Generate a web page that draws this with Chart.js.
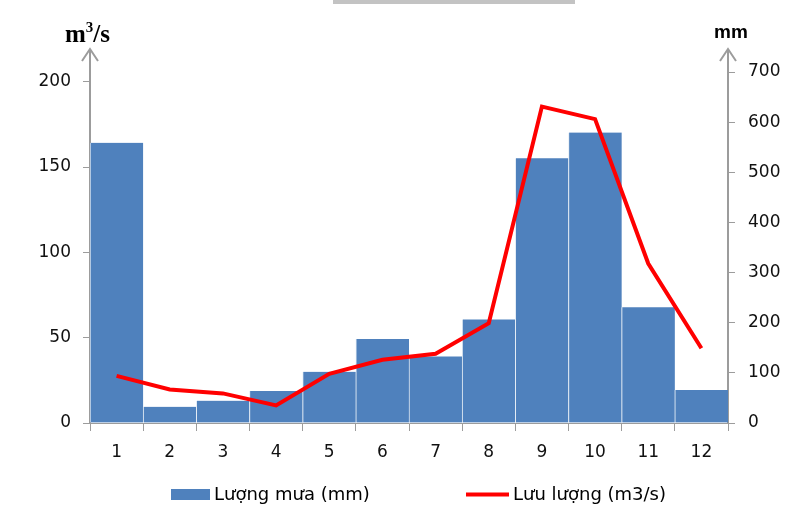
<!DOCTYPE html>
<html>
<head>
<meta charset="utf-8">
<script src="https://cdn.jsdelivr.net/npm/chart.js@4.4.0/dist/chart.umd.min.js"></script>
<style>
  body { margin: 0; background: #fff; }
  #wrap { position: relative; width: 809px; height: 514px; }
</style>
</head>
<body>
<div id="wrap"><canvas id="chart" width="809" height="514"></canvas></div>
<script>
// chart values
var months = ['1', '2', '3', '4', '5', '6', '7', '8', '9', '10', '11', '12'];
var rainLabel = 'Lượng mưa (mm)';
var flowLabel = 'Lưu lượng (m3/s)';
var rain = [164.2, 9.5, 13.1, 18.7, 30.0, 49.2, 39.0, 60.7, 155.2, 170.2, 67.8, 19.3];
var flow = [94, 67, 59, 35, 98, 126, 138, 199, 631, 606, 318, 149];
var leftTicks = [0, 50, 100, 150, 200];
var rightTicks = [0, 100, 200, 300, 400, 500, 600, 700];
var leftTitle = ['m', '3', '/s'];
var rightTitle = 'mm';

var axisGrey = '#9c9c9c';
var barBlue = '#4f81bd';
var lineRed = '#ff0000';
var tickFont = {family: 'DejaVu Sans', size: 17};

// arrows on the two value axes, axis titles, legend
var extras = {
  id: 'extras',
  afterDraw: function(chart) {
    var c = chart.ctx, area = chart.chartArea;
    var xs = [chart.scales.y.right, chart.scales.y1.left];
    c.save();
    c.fillStyle = '#c3c3c3';
    c.fillRect(333, 0, 242, 4);

    c.strokeStyle = axisGrey;
    c.lineWidth = 2;
    xs.forEach(function(x) {
      c.beginPath();
      c.moveTo(x, area.top);
      c.lineTo(x, 49);
      c.stroke();
      c.beginPath();
      c.moveTo(x - 8, 61);
      c.lineTo(x, 49);
      c.lineTo(x + 8, 61);
      c.stroke();
    });

    // m³/s with a real superscript
    c.fillStyle = '#000';
    c.textAlign = 'left';
    c.textBaseline = 'alphabetic';
    var x = 65;
    c.font = 'bold 25px "Liberation Serif"';
    c.fillText(leftTitle[0], x, 42);
    x += c.measureText(leftTitle[0]).width;
    c.font = 'bold 15px "Liberation Serif"';
    c.fillText(leftTitle[1], x, 32);
    x += c.measureText(leftTitle[1]).width;
    c.font = 'bold 25px "Liberation Serif"';
    c.fillText(leftTitle[2], x, 42);

    c.textAlign = 'center';
    c.font = 'bold 19px "Liberation Sans"';
    c.fillText(rightTitle, 731, 38);

    // legend
    c.font = '18px "DejaVu Sans"';
    c.textAlign = 'left';
    c.textBaseline = 'middle';
    c.fillStyle = barBlue;
    c.fillRect(171, 489, 39, 11);
    c.fillStyle = '#000';
    c.fillText(rainLabel, 214, 495);
    c.strokeStyle = lineRed;
    c.lineWidth = 4;
    c.beginPath();
    c.moveTo(466, 494.5);
    c.lineTo(509, 494.5);
    c.stroke();
    c.fillText(flowLabel, 513, 495);
    c.restore();
  }
};

var myChart = new Chart(document.getElementById('chart'), {
  type: 'bar',
  data: {
    labels: months,
    datasets: [
      {
        type: 'line',
        label: flowLabel,
        data: flow,
        yAxisID: 'y1',
        borderColor: lineRed,
        borderWidth: 4,
        pointRadius: 0,
        tension: 0,
        order: 0
      },
      {
        type: 'bar',
        label: rainLabel,
        data: rain,
        yAxisID: 'y',
        backgroundColor: barBlue,
        borderColor: '#e4ecf5',
        borderWidth: {left: 1, right: 0, top: 0, bottom: 0},
        barPercentage: 1,
        categoryPercentage: 1,
        order: 1
      }
    ]
  },
  options: {
    responsive: false,
    animation: false,
    layout: {padding: {top: 72}},
    plugins: {
      legend: {display: false},
      tooltip: {enabled: false}
    },
    scales: {
      x: {
        grid: {drawOnChartArea: false, tickLength: 8, color: axisGrey, offset: true},
        border: {color: axisGrey, width: 1},
        ticks: {font: tickFont, color: '#111', padding: 11, maxRotation: 0},
        afterFit: function(s) { s.height = 91; }
      },
      y: {
        position: 'left',
        min: 0,
        max: 205.7,
        ticks: {padding: 12, font: tickFont, color: '#111'},
        afterBuildTicks: function(s) {
          s.ticks = leftTicks.map(function(v) { return {value: v}; });
        },
        grid: {drawOnChartArea: false, tickLength: 7, color: axisGrey},
        border: {color: axisGrey, width: 2},
        afterFit: function(s) { s.width = 90; }
      },
      y1: {
        position: 'right',
        min: 0,
        max: 700,
        ticks: {padding: 13, font: tickFont, color: '#111'},
        afterBuildTicks: function(s) {
          s.ticks = rightTicks.map(function(v) { return {value: v}; });
        },
        grid: {drawOnChartArea: false, tickLength: 7, color: axisGrey},
        border: {color: axisGrey, width: 2},
        afterFit: function(s) { s.width = 81; }
      }
    }
  },
  plugins: [extras]
});
</script>
</body>
</html>
